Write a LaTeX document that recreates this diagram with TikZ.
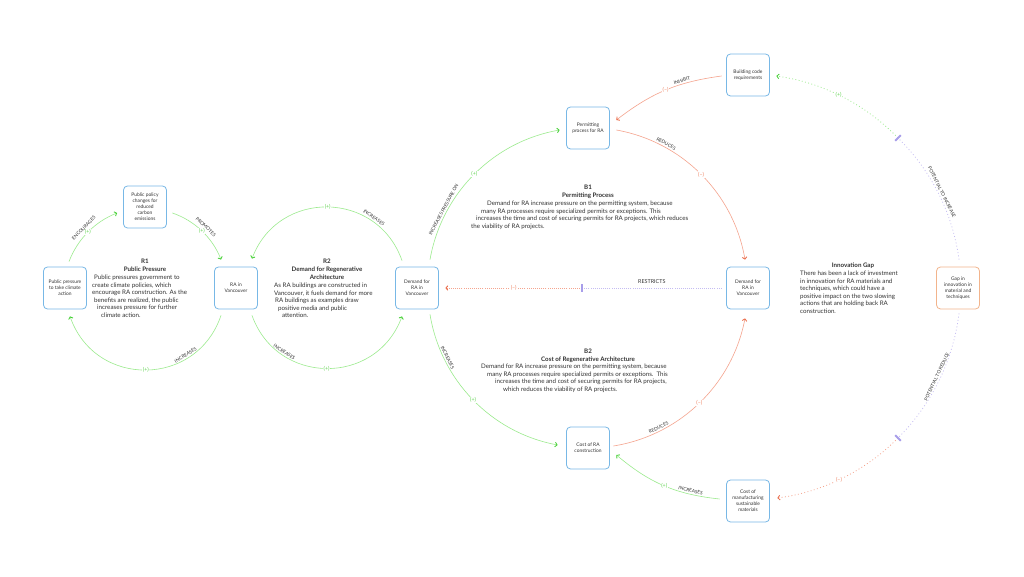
\documentclass[tikz,border=0pt]{standalone}
\usepackage{fontspec}
\setmainfont{Lato}
\usetikzlibrary{arrows.meta}
\definecolor{boxblue}{HTML}{78B8E6}
\definecolor{boxorange}{HTML}{F2B48C}
\definecolor{lgreen}{HTML}{9CEB8E}
\definecolor{dgreen}{HTML}{3FCF2F}
\definecolor{pgreen}{HTML}{5ED24E}
\definecolor{lred}{HTML}{F5A48E}
\definecolor{dred}{HTML}{EA6440}
\definecolor{pred}{HTML}{EE805F}
\definecolor{lav}{HTML}{C4BCF2}
\definecolor{dlav}{HTML}{A89EEA}
\definecolor{txt}{HTML}{333333}
\begin{document}
\begin{tikzpicture}[x=1pt,y=1pt,
  box/.style={draw=boxblue, line width=0.8pt, rounded corners=4pt, minimum width=43pt, minimum height=42pt, inner sep=1pt, align=center, font=\fontsize{4.9}{6}\selectfont, text=txt},
  gtip/.style={-{Straight Barb[length=2pt,width=4.6pt,line width=0.8pt,color=dgreen]}},
  rtip/.style={-{Straight Barb[length=2pt,width=4.6pt,line width=0.8pt,color=dred]}},
  gl/.style={draw=lgreen, line width=0.6pt, gtip},
  rl/.style={draw=lred, line width=0.6pt, rtip},
  lvd/.style={draw=lav, line width=0.75pt, dash pattern=on 0.9pt off 2.4pt},
  gld/.style={draw=lgreen, line width=0.75pt, dash pattern=on 0.9pt off 2.4pt, gtip},
  rld/.style={draw=lred, line width=0.75pt, dash pattern=on 0.9pt off 2.4pt, rtip},
  lvdense/.style={draw=lav, line width=0.75pt, dash pattern=on 0.9pt off 1.2pt},
  rldense/.style={draw=lred, line width=0.75pt, dash pattern=on 0.9pt off 1.2pt, rtip},
  plus/.style={fill=white, inner sep=0.6pt, text=pgreen, font=\fontsize{5.3}{6}\selectfont},
  minus/.style={fill=white, inner sep=0.6pt, text=pred, font=\fontsize{5.3}{6}\selectfont},
  lab/.style={font=\fontsize{4.7}{5}\selectfont, text=txt, sloped, inner sep=1.6pt},
  delay/.style={fill=dlav, minimum width=1.8pt, minimum height=8pt, inner sep=0pt},
  head/.style={font=\bfseries\fontsize{6.2}{7.8}\selectfont, align=center, inner sep=0pt, text=txt},
  body/.style={font=\fontsize{6.2}{7.6}\selectfont, align=left, inner sep=0pt, text=txt}
]
\fill[white] (0,0) rectangle (1024,576);
\useasboundingbox (0,0) rectangle (1024,576);

% boxes
\node[box] (pp) at (65,288) {Public pressure\\to take climate\\action};
\node[box] (pol) at (145,369) {Public policy\\changes for\\reduced\\carbon\\emissions};
\node[box] (ra) at (236,288) {RA in\\Vancouver};
\node[box] (dl) at (417,288) {Demand for\\RA in\\Vancouver};
\node[box] (perm) at (588,448) {Permitting\\process for RA};
\node[box] (bc) at (748,501) {Building code\\requirements};
\node[box] (dr) at (748,288) {Demand for\\RA in\\Vancouver};
\node[box, draw=boxorange] (gap) at (958,288) {Gap in\\innovation in\\material and\\techniques};
\node[box] (cost) at (588,128) {Cost of RA\\construction};
\node[box] (mfg) at (748,75) {Cost of\\manufacturing\\sustainable\\materials};

% R1
\draw[gl] ([shift={(4,5)}]pp.north) to[bend left=24, looseness=0.89]
  node[plus]{(+)} node[lab,above=2.2pt]{ENCOURAGES} ([shift={(-6,-6)}]pol.west);
\draw[gl] ([shift={(5.5,-6)}]pol.east) to[bend left=25, looseness=0.89]
  node[plus]{(+)} node[lab,above=2.2pt]{PROMOTES} ([shift={(-15,7)}]ra.north);
\draw[gl] ([shift={(-15,-6)}]ra.south) to[bend left=71, looseness=1.29]
  node[plus]{(+)} node[lab,above,pos=0.27]{INCREASES} ([shift={(5,-7)}]pp.south);

% R2
\draw[gl] ([shift={(-15,6)}]dl.north) to[bend right=70, looseness=1.27]
  node[plus]{(+)} node[lab,above,pos=0.25]{INCREASES} ([shift={(16,8)}]ra.north);
\draw[gl] ([shift={(16,-6)}]ra.south) to[bend right=70, looseness=1.27]
  node[plus]{(+)} node[lab,above,pos=0.25]{INCREASES} ([shift={(-15,-7)}]dl.south);

% B1 / B2
\draw[gl] ([shift={(13,7)}]dl.north) to[bend left=35, looseness=0.94]
  node[plus]{(+)} node[lab,above,pos=0.26]{INCREASES PRESSURE ON} ([shift={(-6.5,-2)}]perm.west);
\draw[rl] ([shift={(6.5,-2)}]perm.east) to[bend left=35, looseness=0.94]
  node[minus]{(--)} node[lab,above,pos=0.26]{REDUCES} ([shift={(-3,7)}]dr.north);
\draw[rl] ([shift={(3.5,2)}]cost.east) to[bend right=35, looseness=0.94]
  node[minus]{(--)} node[lab,above,pos=0.25]{REDUCES} ([shift={(-3,-9)}]dr.south);
\draw[gl] ([shift={(13,-5)}]dl.south) to[bend right=35, looseness=0.94]
  node[plus]{(+)} node[lab,above,pos=0.24]{INCREASES} ([shift={(-8.5,3)}]cost.west);

\draw[rl] ([shift={(-4.5,-1)}]bc.west) to[bend right=15]
  node[minus]{(--)} node[lab,above,pos=0.33]{INHIBIT} ([shift={(6.5,8)}]perm.east);
\draw[gl] ([shift={(-6.5,2)}]mfg.west) to[bend left=17]
  node[plus]{(+)} node[lab,above,pos=0.25]{INCREASES} ([shift={(6.5,-7)}]cost.east);

% outer innovation loop
\coordinate (d1) at (898,438);
\coordinate (d2) at (898,138);
\coordinate (d3) at (582,288);
\draw[lvd] ([shift={(1,7)}]gap.north) to[bend right=19, looseness=0.875]
  node[lab,above,pos=0.5]{POTENTIAL TO INCREASE} (d1);
\draw[gld] (d1) to[bend right=19, looseness=0.875]
  node[plus,pos=0.53]{(+)} ([shift={(6.5,-1)}]bc.east);
\draw[lvd] ([shift={(1,-4)}]gap.south) to[bend left=19, looseness=0.875]
  node[lab,above,pos=0.48]{POTENTIAL TO REDUCE} (d2);
\draw[rld] (d2) to[bend left=19, looseness=0.875]
  node[minus,pos=0.53]{(--)} ([shift={(7.5,3)}]mfg.east);

% restricts
\draw[lvdense] ([xshift=-4.5]dr.west) -- node[lab,above=2.5pt,font=\fontsize{5.4}{6}\selectfont]{RESTRICTS} (d3);
\draw[rldense] (d3) -- node[minus]{(--)} ([xshift=6.5]dl.east);

\node[delay, rotate=-45] (m1) at (d1) {};
\node[delay, rotate=45] (m2) at (d2) {};
\node[delay] (m3) at (d3) {};

% descriptions
\node[head, anchor=north] (r1h) at (145,317.3) {R1\\Public Pressure};
\node[body, anchor=north west] (r1b) at (92,301.3) {\hspace*{2pt}Public pressures government to\\create climate policies, which\\encourage RA construction. As the\\\hspace*{2pt}benefits are realized, the public\\\hspace*{5pt}increases pressure for further\\\hspace*{9pt}climate action.};

\node[head, anchor=north] (r2h) at (327,317.3) {R2\\Demand for Regenerative\\Architecture};
\node[body, anchor=north west] (r2b) at (274,293.3) {As RA buildings are constructed in\\Vancouver, it fuels demand for more\\\hspace*{1pt}RA buildings as examples draw\\\hspace*{4pt}positive media and public\\\hspace*{8pt}attention.};

\node[head, anchor=north] (b1h) at (588,391.3) {B1\\Permitting Process};
\node[body, anchor=north west] (b1b) at (471,375.3) {\hspace*{16pt}Demand for RA increase pressure on the permitting system, because\\\hspace*{10pt}many RA processes require specialized permits or exceptions. This\\\hspace*{5pt}increases the time and cost of securing permits for RA projects, which reduces\\the viability of RA projects.};

\node[head, anchor=north] (b2h) at (588,227.3) {B2\\Cost of Regenerative Architecture};
\node[body, anchor=north west] (b2b) at (481,212.3) {Demand for RA increase pressure on the permitting system, because\\\hspace*{6pt}many RA processes require specialized permits or exceptions.\ \ This\\\hspace*{14pt}increases the time and cost of securing permits for RA projects,\\\hspace*{22pt}which reduces the viability of RA projects.};

\node[head, anchor=north] (igh) at (853,313.3) {Innovation Gap};
\node[body, anchor=north west] (igb) at (800,305.3) {There has been a lack of investment\\in innovation for RA materials and\\techniques, which could have a\\positive impact on the two slowing\\actions that are holding back RA\\construction.};
\end{tikzpicture}
\end{document}
